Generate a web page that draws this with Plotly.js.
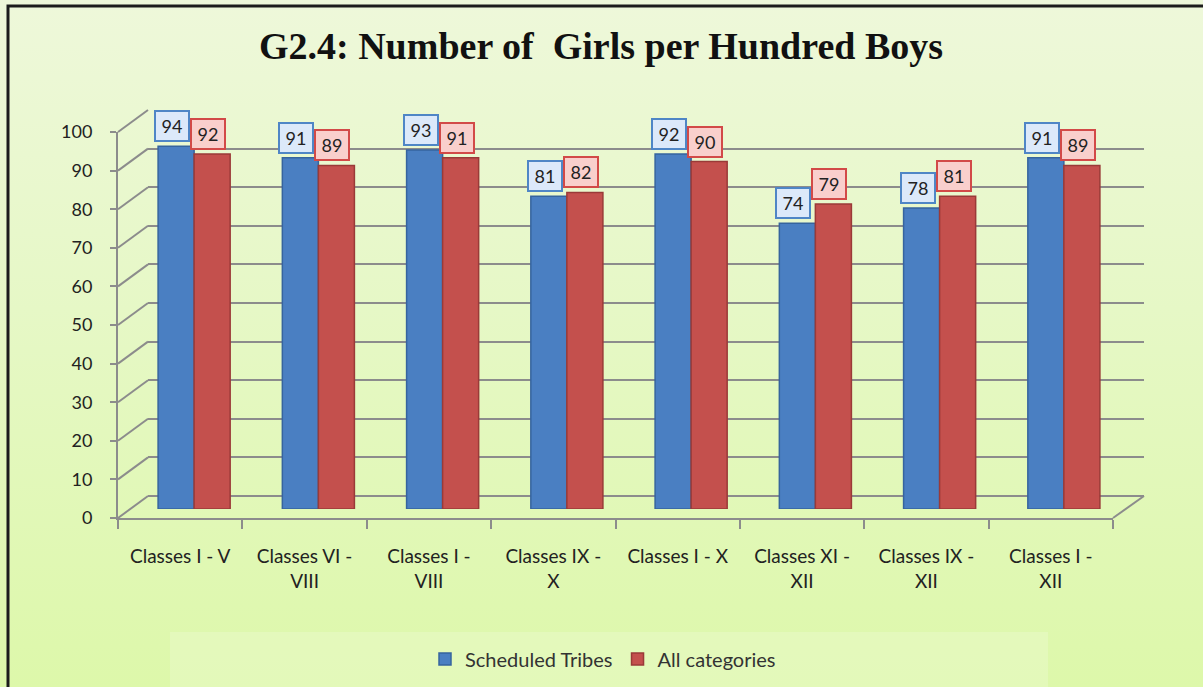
<!DOCTYPE html>
<html>
<head>
<meta charset="utf-8">
<script src="https://cdn.plot.ly/plotly-3.0.1.min.js"></script>
<style>
  html, body { margin: 0; padding: 0; }
  body { width: 1203px; height: 687px; overflow: hidden;
         background: linear-gradient(180deg, #eef8da 0%, #e6f8c6 45%, #ddf8aa 100%); }
  #chart { width: 1203px; height: 687px; }
</style>
</head>
<body>
<div id="chart"></div>
<script>
// ---- data ----
const categories = ["Classes I - V", "Classes VI - VIII", "Classes I - VIII", "Classes IX - X",
                    "Classes I - X", "Classes XI - XII", "Classes IX - XII", "Classes I - XII"];
const tickLabels = ["Classes I - V", "Classes VI -<br>VIII", "Classes I -<br>VIII", "Classes IX -<br>X",
                    "Classes I - X", "Classes XI -<br>XII", "Classes IX -<br>XII", "Classes I -<br>XII"];
const scheduledTribes = [94, 91, 93, 81, 92, 74, 78, 91];
const allCategories   = [92, 89, 91, 82, 90, 79, 81, 89];
const yTicks = [0, 10, 20, 30, 40, 50, 60, 70, 80, 90, 100];

// ---- layout helpers (pixel -> paper) ----
const W = 1203, H = 687;
const px = x => x / W;
const py = y => 1 - y / H;

const gridColor = "#8c8c8c";
const fontFamily = "Lato, 'Noto Sans', sans-serif";

// front axis, back wall and bar planes (pixels)
const front = { x0: 118, x1: 1113, y0: 518, y100: 132 };
const back  = { x0: 148, x1: 1144, y0: 496, y100: 110 };
const barPlane = { x0: 132, x1: 1126, y0: 509, y100: 123 };

const traces = [
  { type: "bar", name: "Scheduled Tribes", x: categories, y: scheduledTribes,
    xaxis: "x3", yaxis: "y3",
    marker: { color: "#4a7fc2", line: { color: "#36649e", width: 1.5 } },
    hoverinfo: "y" },
  { type: "bar", name: "All categories", x: categories, y: allCategories,
    xaxis: "x3", yaxis: "y3",
    marker: { color: "#c4504d", line: { color: "#9a3a38", width: 1.5 } },
    hoverinfo: "y" },
  { type: "scatter", mode: "markers", x: categories, y: categories.map(() => null),
    xaxis: "x2", yaxis: "y2", showlegend: false, hoverinfo: "skip",
    marker: { opacity: 0 } },
  { type: "scatter", mode: "markers", x: [0], y: [null],
    xaxis: "x", yaxis: "y", showlegend: false, hoverinfo: "skip",
    marker: { opacity: 0 } }
];

// wall / floor shapes
const shapes = [];
const fy = v => front.y0 - (front.y0 - front.y100) * v / 100;
const by = v => back.y0 - (back.y0 - back.y100) * v / 100;
yTicks.forEach(v => {
  shapes.push({ type: "line", xref: "paper", yref: "paper",
    x0: px(front.x0), y0: py(fy(v)), x1: px(back.x0), y1: py(by(v)),
    line: { color: gridColor, width: 2 }, layer: "below" });
});
shapes.push({ type: "line", xref: "paper", yref: "paper",
  x0: px(front.x1), y0: py(front.y0), x1: px(back.x1), y1: py(back.y0),
  line: { color: gridColor, width: 2 }, layer: "below" });
// legend panel
shapes.push({ type: "rect", xref: "paper", yref: "paper",
  x0: px(170), y0: py(687), x1: px(1048), y1: py(632),
  fillcolor: "rgba(255,255,255,0.18)", line: { width: 0 }, layer: "below" });
// frame
shapes.push({ type: "path", xref: "paper", yref: "paper",
  path: `M ${px(8)} ${py(690)} L ${px(8)} ${py(6)} L ${px(1205)} ${py(6)}`,
  line: { color: "#1c1c1c", width: 3 } });

// value label boxes
const annotations = [];
categories.forEach((c, i) => {
  annotations.push({ xref: "x3", yref: "y3", x: c, y: scheduledTribes[i],
    text: String(scheduledTribes[i]), showarrow: false,
    xanchor: "center", yanchor: "bottom", xshift: -22, yshift: 4,
    width: 28, height: 24, borderpad: 2, borderwidth: 2,
    bgcolor: "#dce9fa", bordercolor: "#4f86c6",
    font: { family: fontFamily, size: 18, color: "#222" } });
  annotations.push({ xref: "x3", yref: "y3", x: c, y: allCategories[i],
    text: String(allCategories[i]), showarrow: false,
    xanchor: "center", yanchor: "bottom", xshift: 14, yshift: 4,
    width: 28, height: 24, borderpad: 2, borderwidth: 2,
    bgcolor: "#f9cfcc", bordercolor: "#d24a48",
    font: { family: fontFamily, size: 18, color: "#222" } });
});

const layout = {
  width: W, height: H,
  margin: { l: 0, r: 0, t: 0, b: 0, pad: 0 },
  paper_bgcolor: "rgba(0,0,0,0)",
  plot_bgcolor: "rgba(0,0,0,0)",
  title: { text: "<b>G2.4: Number of  Girls per Hundred Boys</b>",
    x: px(601), xanchor: "center", y: py(46), yanchor: "middle",
    font: { family: "'Liberation Serif', 'DejaVu Serif', serif", size: 38, color: "#111" } },
  showlegend: true,
  legend: { orientation: "h", x: px(603), xanchor: "center", y: py(659), yanchor: "middle",
    font: { family: fontFamily, size: 20, color: "#333" },
    bgcolor: "rgba(0,0,0,0)", traceorder: "normal", itemwidth: 30 },
  bargap: 0.42, bargroupgap: 0, barmode: "group",
  // back wall grid
  xaxis: { domain: [px(back.x0), px(back.x1)], anchor: "y", range: [0, 1],
    visible: false, fixedrange: true },
  yaxis: { domain: [py(back.y0), py(back.y100)], anchor: "x", range: [0, 100],
    tickvals: yTicks, showticklabels: false, ticks: "",
    showgrid: true, gridcolor: gridColor, gridwidth: 2,
    zeroline: true, zerolinecolor: gridColor, zerolinewidth: 2, showline: false, fixedrange: true },
  // front axes
  xaxis2: { domain: [px(front.x0), px(front.x1)], anchor: "y2", type: "category",
    range: [-0.5, categories.length - 0.5],
    tickvals: categories, ticktext: tickLabels, tickson: "boundaries",
    ticks: "outside", ticklen: 9, tickwidth: 2, tickcolor: gridColor,
    showline: true, linecolor: gridColor, linewidth: 2, showgrid: false, zeroline: false,
    tickfont: { family: fontFamily, size: 19, color: "#222" }, ticklabelstandoff: 20, fixedrange: true },
  yaxis2: { domain: [py(front.y0), py(front.y100)], anchor: "x2", range: [0, 100],
    tickvals: yTicks, ticks: "outside", ticklen: 6, tickwidth: 2, tickcolor: gridColor,
    showline: true, linecolor: gridColor, linewidth: 2, showgrid: false, zeroline: false,
    tickfont: { family: fontFamily, size: 18, color: "#222" }, ticklabelstandoff: 14, fixedrange: true },
  // bar plane
  xaxis3: { domain: [px(barPlane.x0), px(barPlane.x1)], anchor: "y3", type: "category",
    range: [-0.5, categories.length - 0.5], visible: false, fixedrange: true },
  yaxis3: { domain: [py(barPlane.y0), py(barPlane.y100)], anchor: "x3", range: [0, 100],
    visible: false, fixedrange: true },
  shapes: shapes,
  annotations: annotations
};

Plotly.newPlot("chart", traces, layout, { displayModeBar: false, staticPlot: true });
</script>
</body>
</html>
